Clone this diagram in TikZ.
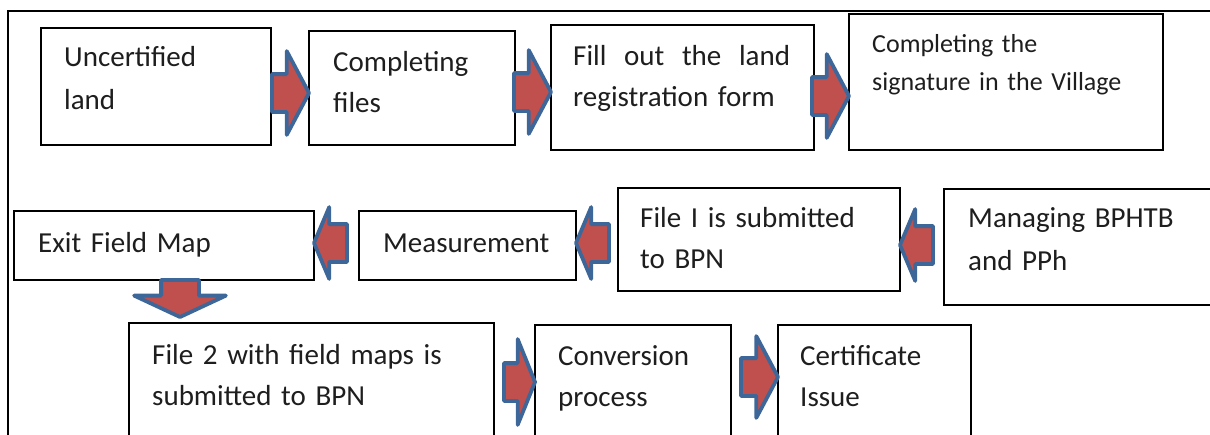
\documentclass[tikz,border=0pt]{standalone}
\usepackage{fontspec}
\setmainfont{Carlito}
\usepackage{tikz}
\usetikzlibrary{shapes.arrows,positioning}
\definecolor{arrowred}{RGB}{192,80,77}
\definecolor{arrowblue}{RGB}{62,103,153}
\definecolor{textgrey}{RGB}{30,30,30}

\begin{document}
\begin{tikzpicture}[x=1pt, y=-1pt,
    stepbox/.style={rectangle, draw=black, line width=2.4pt, fill=white, anchor=north west,
                    outer sep=0pt, inner sep=0pt},
    steptext/.style={font=\fontsize{29}{41}\selectfont, text=textgrey, text width=360pt,
                     align=left, anchor=base west, inner sep=0pt},
    widetext/.style={steptext, font=\fontsize{29}{43}\selectfont},
    rarrow/.style={single arrow, draw=arrowblue, fill=arrowred, line width=3.8pt, line join=round,
                   inner xsep=0pt, inner ysep=17pt, outer sep=0pt, minimum height=37pt,
                   single arrow head extend=23pt, single arrow tip angle=124, anchor=tip},
    larrow/.style={rarrow, rotate=180, minimum height=33pt, single arrow head extend=17pt,
                   single arrow tip angle=134},
    darrow/.style={rarrow, rotate=-90, anchor=tail, single arrow head extend=27pt,
                   single arrow tip angle=130},
    frameline/.style={black, line width=1.2pt}
]
    \useasboundingbox (0,0) rectangle (1210,434);
    \clip (0,0) rectangle (1210,434);
    \draw[frameline] (1220,11) -- (8,11) -- (8,440);

    \node[stepbox, minimum width=230pt, minimum height=117pt] (uncert) at (41,28) {};
    \node[stepbox, minimum width=206pt, minimum height=114pt] (compl) at (309,31) {};
    \node[stepbox, minimum width=263pt, minimum height=125pt] (fillform) at (551,25) {};
    \node[stepbox, minimum width=314pt, minimum height=136pt] (signvil) at (849,14) {};
    \node[stepbox, minimum width=300pt, minimum height=69pt] (exitmap) at (14,211) {};
    \node[stepbox, minimum width=217pt, minimum height=69pt] (measure) at (359,211) {};
    \node[stepbox, minimum width=282pt, minimum height=103pt] (fileone) at (618,188) {};
    \node[stepbox, minimum width=280pt, minimum height=116pt] (bphtb) at (944,189) {};
    \node[stepbox, minimum width=365pt, minimum height=130pt] (filetwo) at (129,323) {};
    \node[stepbox, minimum width=196pt, minimum height=130pt] (convert) at (535,325) {};
    \node[stepbox, minimum width=193pt, minimum height=130pt] (certif) at (778,325) {};

    \node[widetext] (uncerttxt) at (64,66.5) {Uncertified\\land};
    \node[steptext] (compltxt) at (333,71) {Completing\\files};
    \node[steptext] (filltxt) at (573,65.5) {\makebox[217pt][l]{Fill\hfill out\hfill the\hfill land}\\registration form};
    \node[steptext, font=\fontsize{26}{38}\selectfont] (signtxt) at (872,52) {Completing the\\signature in the Village};
    \node[steptext] (exittxt) at (38,252.5) {Exit Field Map};
    \node[steptext] (meastxt) at (383,252.5) {Measurement};
    \node[steptext] (fileonetxt) at (640,227.5) {File I is submitted\\to BPN};
    \node[widetext] (bphtbtxt) at (968,227.5) {Managing BPHTB\\and PPh};
    \node[steptext] (filetwotxt) at (152,364.5) {File 2 with field maps is\\submitted to BPN};
    \node[steptext] (convtxt) at (558,365.5) {Conversion\\process};
    \node[steptext] (certtxt) at (800,365.5) {Certificate\\Issue};

    \node[rarrow] (ar1) at (compl.west |- 0,93) {};
    \node[rarrow] (ar2) at (fillform.west |- 0,92) {};
    \node[rarrow] (ar3) at (signvil.west |- 0,96) {};
    \node[larrow] (ar4) at (exitmap.east |- 0,243) {};
    \node[larrow] (ar5) at (measure.east |- 0,243) {};
    \node[larrow] (ar6) at (fileone.east |- 0,245) {};
    \node[darrow] (ar7) at (exitmap.south -| 180,0) {};
    \node[rarrow, minimum height=31pt, single arrow head extend=24pt, single arrow tip angle=136] (ar8) at (convert.west |- 0,382) {};
    \node[rarrow, single arrow head extend=22pt] (ar9) at (certif.west |- 0,377) {};
\end{tikzpicture}
\end{document}
